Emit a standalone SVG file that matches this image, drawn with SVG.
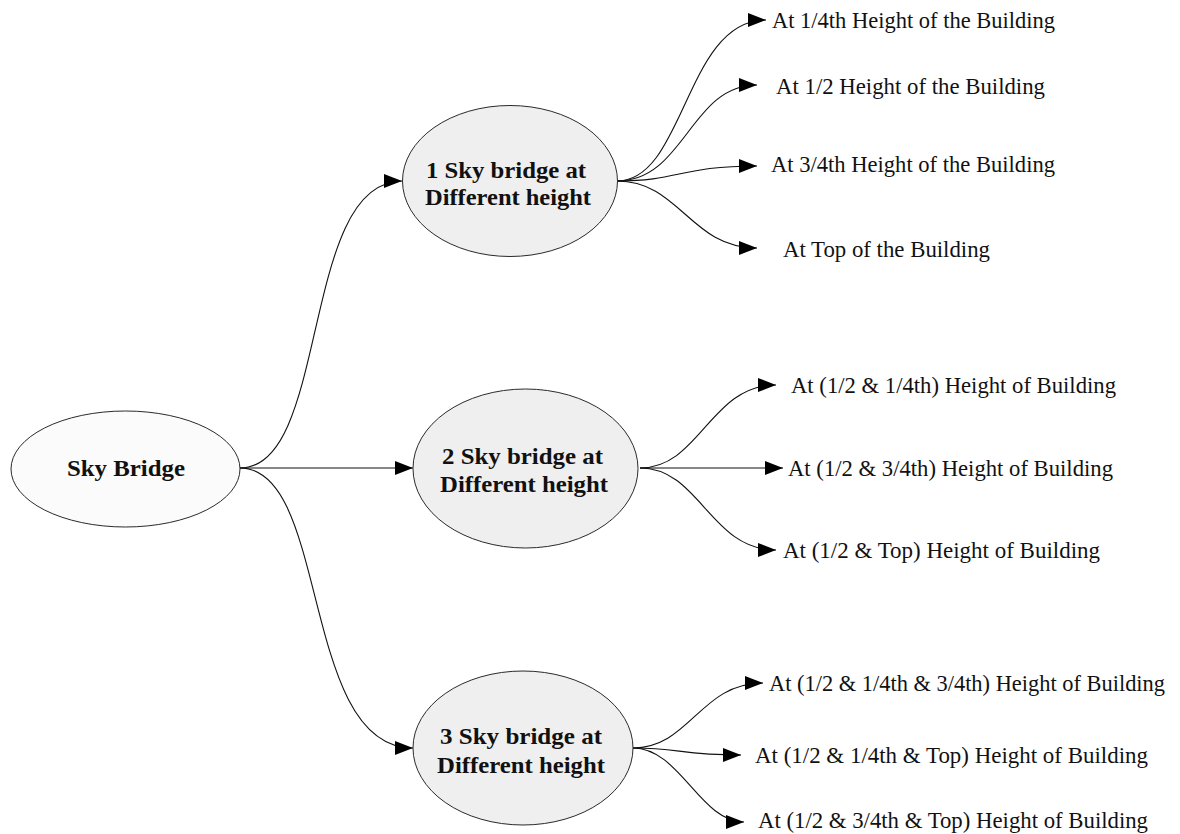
<svg xmlns="http://www.w3.org/2000/svg" width="1180" height="834" viewBox="0 0 1180 834">
<style>
.node{stroke:#2a2a2a;stroke-width:1;}
.root{fill:#fbfbfb;}
.mid{fill:#efefef;}
.nt{font-family:"Liberation Serif","Times New Roman",serif;font-weight:bold;font-size:24px;fill:#111;}
.lt{font-family:"Liberation Serif","Times New Roman",serif;font-size:23.5px;fill:#111;}
.c{fill:none;stroke:#111;stroke-width:1.1;marker-end:url(#ah);}
</style>
<defs>
<marker id="ah" markerUnits="userSpaceOnUse" markerWidth="18" markerHeight="14" refX="18" refY="7" orient="auto">
<path d="M0,0 L18,7 L0,14 z" fill="#000"/>
</marker>
</defs>
<rect width="1180" height="834" fill="#fff"/>
<g id="connectors">
<path class="c" d="M240,468 C330,468 300,181 402,181"/>
<path class="c" d="M240,468 L413,468"/>
<path class="c" d="M240,468 C330,468 300,748 413,748"/>
<path class="c" d="M617,181 C685,181 685,20 766,20"/>
<path class="c" d="M617,181 C685,181 690,85 757,85"/>
<path class="c" d="M617,181 C680,181 680,166 757,166"/>
<path class="c" d="M617,181 C680,181 690,248 757,248"/>
<path class="c" d="M640,468 C700,468 710,385 776,385"/>
<path class="c" d="M640,468 L783,468"/>
<path class="c" d="M640,468 C700,468 710,550 776,550"/>
<path class="c" d="M633,748 C690,748 700,683 763,683"/>
<path class="c" d="M633,748 C680,748 680,755 741,755"/>
<path class="c" d="M633,748 C680,748 700,822 744,822"/>
</g>
<g id="sky-bridge">
<ellipse class="node root" cx="125.5" cy="469" rx="114.5" ry="58"/>
<text class="nt" x="67" y="476" textLength="118" lengthAdjust="spacingAndGlyphs">Sky Bridge</text>
</g>
<g id="one-bridge">
<ellipse class="node mid" cx="510" cy="181" rx="107.5" ry="75.5"/>
<text class="nt" x="426" y="178" textLength="160" lengthAdjust="spacingAndGlyphs">1 Sky bridge at</text>
<text class="nt" x="425" y="205" textLength="166" lengthAdjust="spacingAndGlyphs">Different height</text>
</g>
<g id="two-bridge">
<ellipse class="node mid" cx="525.5" cy="468.5" rx="112.5" ry="79.5"/>
<text class="nt" x="442" y="464" textLength="161" lengthAdjust="spacingAndGlyphs">2 Sky bridge at</text>
<text class="nt" x="440" y="492" textLength="168" lengthAdjust="spacingAndGlyphs">Different height</text>
</g>
<g id="three-bridge">
<ellipse class="node mid" cx="523" cy="748" rx="110" ry="77"/>
<text class="nt" x="440" y="744" textLength="162" lengthAdjust="spacingAndGlyphs">3 Sky bridge at</text>
<text class="nt" x="437" y="773" textLength="168" lengthAdjust="spacingAndGlyphs">Different height</text>
</g>
<g id="l1"><text class="lt" x="772" y="28" textLength="283" lengthAdjust="spacingAndGlyphs">At 1/4th Height of the Building</text></g>
<g id="l2"><text class="lt" x="776" y="94" textLength="269" lengthAdjust="spacingAndGlyphs">At 1/2 Height of the Building</text></g>
<g id="l3"><text class="lt" x="771" y="172" textLength="284" lengthAdjust="spacingAndGlyphs">At 3/4th Height of the Building</text></g>
<g id="l4"><text class="lt" x="783" y="257" textLength="207" lengthAdjust="spacingAndGlyphs">At Top of the Building</text></g>
<g id="l5"><text class="lt" x="791" y="393" textLength="325" lengthAdjust="spacingAndGlyphs">At (1/2 &amp; 1/4th) Height of Building</text></g>
<g id="l6"><text class="lt" x="788" y="476" textLength="325" lengthAdjust="spacingAndGlyphs">At (1/2 &amp; 3/4th) Height of Building</text></g>
<g id="l7"><text class="lt" x="783" y="558" textLength="317" lengthAdjust="spacingAndGlyphs">At (1/2 &amp; Top) Height of Building</text></g>
<g id="l8"><text class="lt" style="font-size:22.5px" x="769" y="691" textLength="396" lengthAdjust="spacingAndGlyphs">At (1/2 &amp; 1/4th &amp; 3/4th) Height of Building</text></g>
<g id="l9"><text class="lt" x="755" y="763" textLength="393" lengthAdjust="spacingAndGlyphs">At (1/2 &amp; 1/4th &amp; Top) Height of Building</text></g>
<g id="l10"><text class="lt" x="758" y="828" textLength="390" lengthAdjust="spacingAndGlyphs">At (1/2 &amp; 3/4th &amp; Top) Height of Building</text></g>
</svg>
